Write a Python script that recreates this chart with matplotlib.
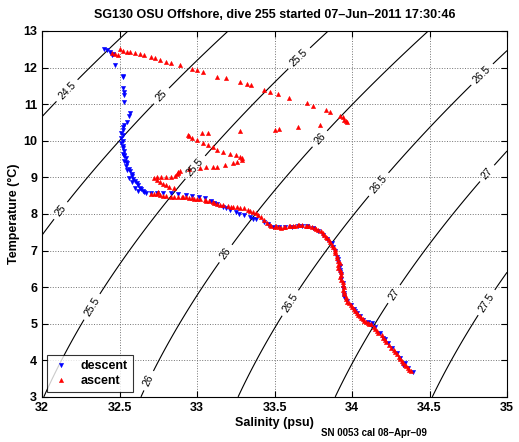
import numpy as np
import matplotlib
matplotlib.use('Agg')
import matplotlib.pyplot as plt

plt.rcParams['font.family'] = ['Liberation Sans', 'DejaVu Sans']

# descent (blue, down triangles), salinity / temperature
descent_s = [32.40, 32.42, 32.44, 32.46, 32.45, 32.47, 32.52, 32.52, 32.52, 32.53, 32.53, 32.53,
             32.57, 32.56, 32.55, 32.53, 32.52, 32.52, 32.51, 32.52, 32.51, 32.52, 32.51, 32.52,
             32.52, 32.53, 32.52, 32.53, 32.54, 32.53, 32.55, 32.54, 32.56, 32.57, 32.58, 32.58,
             32.59, 32.60, 32.61, 32.62, 32.63, 32.64, 32.65, 32.67, 32.70, 32.74, 32.78, 32.83,
             32.88, 32.93, 32.97, 33.01, 33.05, 33.09, 33.13, 33.17, 33.21, 33.25, 33.30, 33.34,
             33.38, 33.43, 33.46, 33.49, 33.53, 33.57, 33.61, 33.65, 33.68, 33.71, 33.75, 33.78,
             33.81, 33.84, 33.87, 33.88, 33.89, 33.90, 33.91, 33.92, 33.92, 33.93, 33.93, 33.94,
             33.94, 33.95, 33.95, 33.97, 33.99, 34.01, 34.03, 34.05, 34.07, 34.10, 34.13, 34.15,
             34.18, 34.20, 34.23, 34.26, 34.29, 34.31, 34.34, 34.36, 34.39,
             32.53, 32.54, 32.55, 32.56, 32.58, 32.60, 32.62, 32.66, 33.11, 33.19, 33.27, 33.36,
             33.92, 33.91, 33.95, 34.02, 34.12, 34.21, 34.33]
descent_t = [12.52, 12.47, 12.42, 12.38, 12.33, 12.07, 11.78, 11.74, 11.45, 11.33, 11.25, 11.06,
             10.76, 10.68, 10.51, 10.42, 10.38, 10.30, 10.22, 10.15, 10.08, 10.00, 9.93, 9.86,
             9.80, 9.72, 9.65, 9.58, 9.52, 9.45, 9.38, 9.30, 9.24, 9.17, 9.10, 9.03,
             8.96, 8.90, 8.84, 8.78, 8.72, 8.67, 8.62, 8.58, 8.57, 8.57, 8.57, 8.56,
             8.55, 8.53, 8.50, 8.47, 8.44, 8.36, 8.26, 8.18, 8.11, 8.04, 7.97, 7.91,
             7.85, 7.78, 7.72, 7.65, 7.63, 7.63, 7.65, 7.67, 7.68, 7.66, 7.62, 7.52,
             7.43, 7.32, 7.21, 7.10, 6.98, 6.83, 6.70, 6.58, 6.47, 6.35, 6.22, 6.11,
             5.98, 5.85, 5.73, 5.62, 5.51, 5.40, 5.30, 5.20, 5.10, 5.05, 5.02, 4.92,
             4.75, 4.62, 4.48, 4.35, 4.20, 4.07, 3.93, 3.80, 3.68,
             9.62, 9.41, 9.20, 8.99, 8.88, 8.70, 8.63, 8.59, 8.31, 8.15, 8.01, 7.87,
             6.40, 6.76, 5.78, 5.35, 4.97, 4.58, 3.87]

# ascent (red, up triangles), salinity / temperature
ascent_s = [34.38, 34.36, 34.34, 34.32, 34.30, 34.28, 34.25, 34.22, 34.20, 34.17, 34.15, 34.12,
            34.10, 34.08, 34.06, 34.04, 34.02, 34.00, 33.98, 33.96, 33.95, 33.94, 33.94, 33.93,
            33.93, 33.92, 33.91, 33.91, 33.90, 33.89, 33.88, 33.86, 33.84, 33.82, 33.80, 33.77,
            33.74, 33.71, 33.68, 33.65, 33.62, 33.59, 33.56, 33.53, 33.50, 33.47, 33.45, 33.43,
            33.41, 33.39, 33.36, 33.33, 33.30, 33.26, 33.23, 33.20, 33.17, 33.13, 33.10, 33.08,
            33.05, 33.02, 32.98, 32.95, 32.91, 32.88, 32.85, 32.83, 32.80, 32.78, 32.76, 32.74,
            32.72, 32.70,
            34.37, 34.35, 34.33, 34.31, 34.29, 34.27, 34.24, 34.21, 34.19, 34.16, 34.14, 34.11,
            34.09, 34.07, 34.05, 34.03, 34.01, 33.99, 33.97, 33.96, 33.95, 33.95, 33.94, 33.92,
            33.93, 33.91, 33.92, 33.90, 33.89, 33.89, 33.87, 33.85, 33.83, 33.81, 33.78, 33.76,
            33.72, 33.70, 33.66, 33.63, 33.60, 33.57, 33.54, 33.51, 33.48,
            33.38, 33.34, 33.28, 33.22, 33.15, 33.11, 33.06, 33.00, 32.97, 32.93, 32.90, 32.75,
            32.72, 32.74, 32.76, 32.78, 32.80, 32.82, 32.85,
            32.74, 32.77, 32.80, 32.83, 32.86, 32.87, 32.88, 32.89, 32.88,
            32.95, 33.02, 33.06, 33.10, 33.13, 33.18, 33.23, 33.26, 33.29, 33.29, 33.28, 33.25,
            33.21, 33.17, 33.13, 33.10, 33.07, 33.04, 33.00, 32.97, 32.95, 32.94,
            33.03, 33.07, 33.28, 33.50, 33.53, 33.65, 33.79,
            33.97, 33.96, 33.95, 33.94, 33.92, 33.86, 33.83, 33.75, 33.71, 33.59, 33.52, 33.47,
            33.43, 33.35, 33.32, 33.28, 33.19, 33.13, 33.04, 33.00, 32.97, 32.89, 32.83, 32.80,
            32.76, 32.73, 32.70, 32.66, 32.63, 32.60, 32.57, 32.55, 32.52, 32.50,
            32.45, 32.47, 32.49]
ascent_t = [3.70, 3.78, 3.88, 3.98, 4.10, 4.22, 4.35, 4.50, 4.62, 4.74, 4.86, 4.98,
            5.03, 5.08, 5.16, 5.25, 5.35, 5.46, 5.56, 5.68, 5.80, 5.93, 6.06, 6.20,
            6.33, 6.46, 6.60, 6.72, 6.86, 6.98, 7.10, 7.22, 7.33, 7.43, 7.52, 7.60,
            7.64, 7.67, 7.69, 7.69, 7.68, 7.66, 7.64, 7.63, 7.64, 7.70, 7.75, 7.83,
            7.92, 7.98, 8.05, 8.10, 8.16, 8.18, 8.20, 8.22, 8.25, 8.28, 8.32, 8.35,
            8.38, 8.40, 8.42, 8.44, 8.45, 8.46, 8.47, 8.47, 8.49, 8.50, 8.52, 8.55,
            8.55, 8.55,
            3.74, 3.85, 3.93, 4.04, 4.16, 4.28, 4.42, 4.56, 4.68, 4.80, 4.92, 5.00,
            5.06, 5.12, 5.21, 5.30, 5.40, 5.50, 5.60, 5.74, 5.86, 6.00, 6.13, 6.27,
            6.40, 6.53, 6.66, 6.79, 6.92, 7.04, 7.16, 7.28, 7.38, 7.47, 7.56, 7.62,
            7.66, 7.68, 7.70, 7.68, 7.67, 7.65, 7.62, 7.66, 7.68,
            8.02, 8.08, 8.15, 8.20, 8.24, 8.30, 8.36, 8.40, 8.43, 8.45, 8.46, 8.60,
            8.98, 8.93, 8.88, 8.83, 8.78, 8.74, 8.71,
            9.00, 9.00, 9.01, 9.02, 9.05, 9.10, 9.15, 9.18, 9.12,
            9.22, 9.26, 9.27, 9.28, 9.28, 9.33, 9.39, 9.42, 9.48, 9.52, 9.56, 9.60,
            9.64, 9.69, 9.76, 9.83, 9.88, 9.94, 10.01, 10.08, 10.12, 10.16,
            10.21, 10.21, 10.27, 10.30, 10.32, 10.38, 10.43,
            10.50, 10.53, 10.58, 10.64, 10.68, 10.79, 10.84, 10.95, 11.03, 11.17, 11.28, 11.33,
            11.39, 11.52, 11.55, 11.61, 11.72, 11.74, 11.88, 11.92, 11.96, 12.07, 12.12, 12.16,
            12.21, 12.25, 12.29, 12.33, 12.37, 12.40, 12.42, 12.43, 12.46, 12.51,
            12.40, 12.37, 12.33]

sigma_levels = [24.5, 25, 25.5, 26, 26.5, 27, 27.5]
# where the contour labels sit (salinity, temperature)
label_spots = [(32.13, 11.50), (32.75, 11.31), (32.09, 8.19), (33.65, 12.29), (32.97, 9.34),
               (32.25, 5.65), (33.78, 10.10), (33.18, 6.93), (32.68, 3.46), (34.83, 11.85),
               (34.16, 8.85), (33.60, 5.57), (34.86, 9.15), (34.26, 5.84), (34.86, 5.60)]


def sigma0(s, t):
    # UNESCO EOS-80 at surface pressure, minus 1000
    rw = (999.842594 + 6.793952e-2 * t - 9.095290e-3 * t**2 + 1.001685e-4 * t**3
          - 1.120083e-6 * t**4 + 6.536332e-9 * t**5)
    a = 8.24493e-1 - 4.0899e-3 * t + 7.6438e-5 * t**2 - 8.2467e-7 * t**3 + 5.3875e-9 * t**4
    b = -5.72466e-3 + 1.0227e-4 * t - 1.6546e-6 * t**2
    c = 4.8314e-4
    return rw + a * s + b * s**1.5 + c * s**2 - 1000.0


fig = plt.figure(figsize=(5.19, 4.42), dpi=100)
ax = fig.add_axes([0.081, 0.102, 0.896, 0.828])

sg, tg = np.meshgrid(np.linspace(32, 35, 300), np.linspace(3, 13, 300))
cs = ax.contour(sg, tg, sigma0(sg, tg), levels=sigma_levels, colors='k', linewidths=0.8)

ax.plot(descent_s, descent_t, 'v', color='b', markersize=3.0, markeredgewidth=0.4, label='descent')
ax.plot(ascent_s, ascent_t, '^', color='r', markersize=3.0, markeredgewidth=0.4, label='ascent')

ax.set_xlim(32, 35)
ax.set_ylim(3, 13)
ax.set_xticks(np.arange(32, 35.01, 0.5))
ax.set_xticklabels(['32', '32.5', '33', '33.5', '34', '34.5', '35'])
ax.set_yticks(range(3, 14))
ax.grid(True, linestyle=':', color='0.45', linewidth=0.7)
ax.tick_params(direction='in', top=True, right=True, length=4, width=0.8, labelsize=9)
for lab in ax.get_xticklabels() + ax.get_yticklabels():
    lab.set_fontweight('bold')

ax.set_title('SG130 OSU Offshore, dive 255 started 07\u2013Jun\u20132011 17:30:46',
             fontsize=9, fontweight='bold', pad=9)
ax.set_xlabel('Salinity (psu)', fontsize=9, fontweight='bold', labelpad=2)
ax.set_ylabel('Temperature (\u00b0C)', fontsize=9, fontweight='bold', labelpad=2)

leg = ax.legend(loc='lower left', prop={'weight': 'bold', 'size': 9},
                frameon=True, fancybox=False, edgecolor='k', borderaxespad=0.4,
                handlelength=1.5, markerscale=1.0, labelspacing=0.2)
leg.get_frame().set_linewidth(0.8)

fig.canvas.draw()
ax.clabel(cs, sigma_levels, inline=True, fontsize=7.5, fmt='%g', manual=label_spots)

fig.text(374 / 519, 1 - 433 / 442, 'SN 0053 cal 08\u2013Apr\u201309', ha='center', va='center',
         fontsize=7, fontweight='bold')

fig.savefig('out.png', dpi=100)
